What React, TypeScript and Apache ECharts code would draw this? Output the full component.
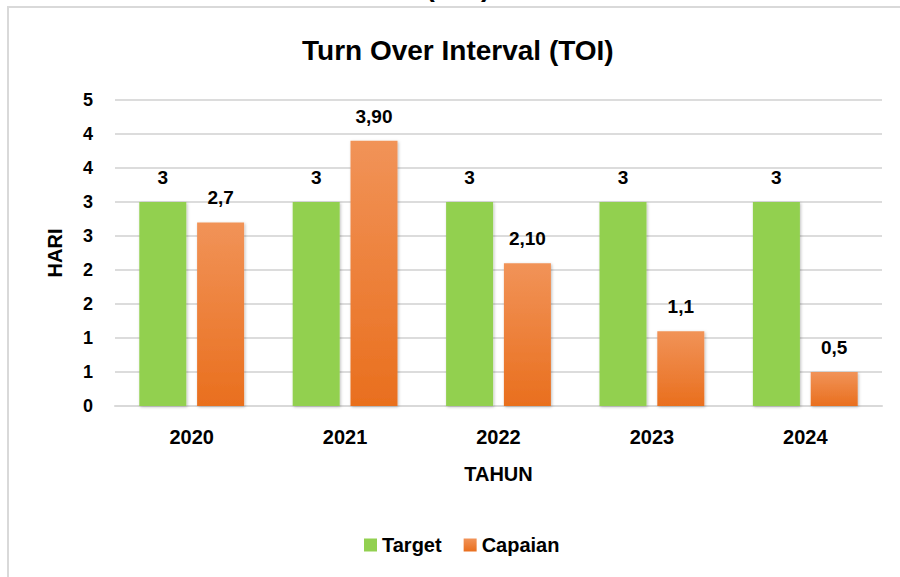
import React, { useEffect, useRef } from "react";
import * as echarts from "echarts";

const categories = ["2020", "2021", "2022", "2023", "2024"];
const targetValues = [3, 3, 3, 3, 3];
const targetLabels = ["3", "3", "3", "3", "3"];
const capaianValues = [2.7, 3.9, 2.1, 1.1, 0.5];
const capaianLabels = ["2,7", "3,90", "2,10", "1,1", "0,5"];
const seriesNames = ["Target", "Capaian"];
const titleText = "Turn Over Interval (TOI)";

const FONT = "'Liberation Sans', Arial, sans-serif";

export default function App() {
  const ref = useRef<HTMLDivElement>(null);
  useEffect(() => {
    if (!ref.current) return;
    const chart = echarts.init(ref.current, null, { renderer: "svg" });
    const orange = new echarts.graphic.LinearGradient(0, 0, 0, 1, [
      { offset: 0, color: "#F19358" },
      { offset: 1, color: "#E96F1E" },
    ]);
    chart.setOption({
      animation: false,
      backgroundColor: "#ffffff",
      textStyle: { fontFamily: FONT },
      title: {
        text: titleText,
        left: 302,
        top: 36,
        padding: 0,
        textStyle: { fontFamily: FONT, fontSize: 28, fontWeight: "bold", color: "#000" },
      },
      graphic: [
        {
          type: "rect",
          shape: { x: 8, y: 7, width: 1000, height: 1000 },
          style: { fill: "none", stroke: "#d9d9d9", lineWidth: 2 },
          silent: true,
        },
        {
          type: "text",
          x: 458,
          y: 0,
          style: {
            text: "(TOI)",
            font: `bold 28px ${FONT}`,
            fill: "#000",
            align: "center",
            verticalAlign: "bottom",
          },
          silent: true,
        },
      ],
      legend: {
        data: seriesNames,
        left: 359,
        top: 530,
        itemWidth: 13,
        itemHeight: 13,
        itemGap: 22,
        icon: "rect",
        textStyle: { fontFamily: FONT, fontSize: 20, fontWeight: "bold", color: "#000" },
      },
      grid: { left: 115, right: 18, top: 100, bottom: 171, containLabel: false },
      xAxis: {
        type: "category",
        data: categories,
        name: "TAHUN",
        nameLocation: "middle",
        nameGap: 58,
        nameTextStyle: { fontFamily: FONT, fontSize: 20, fontWeight: "bold", color: "#000" },
        axisTick: { show: false },
        axisLine: { lineStyle: { color: "#d9d9d9", width: 2 } },
        axisLabel: { margin: 21, fontFamily: FONT, fontSize: 20, fontWeight: "bold", color: "#000" },
      },
      yAxis: {
        type: "value",
        min: 0,
        max: 4.5,
        interval: 0.5,
        name: "HARI",
        nameLocation: "middle",
        nameGap: 50,
        nameRotate: 90,
        nameTextStyle: { fontFamily: FONT, fontSize: 20, fontWeight: "bold", color: "#000" },
        axisLine: { show: false },
        axisTick: { show: false },
        splitLine: { lineStyle: { color: "#dcdcdc", width: 2 } },
        axisLabel: {
          margin: 22,
          fontFamily: FONT,
          fontSize: 18,
          fontWeight: "bold",
          color: "#000",
          formatter: (v: number) => String(Math.round(v)),
        },
      },
      series: [
        {
          name: seriesNames[0],
          type: "bar",
          data: targetValues,
          barWidth: 47,
          barGap: "23%",
          itemStyle: {
            color: "#92D050",
            shadowBlur: 3,
            shadowColor: "rgba(0,0,0,0.25)",
            shadowOffsetX: 1,
            shadowOffsetY: 1,
          },
          label: {
            show: true,
            position: "top",
            distance: 15,
            fontFamily: FONT,
            fontSize: 19,
            fontWeight: "bold",
            color: "#000",
            formatter: (p: any) => targetLabels[p.dataIndex],
          },
        },
        {
          name: seriesNames[1],
          type: "bar",
          data: capaianValues,
          barWidth: 47,
          itemStyle: {
            color: orange,
            shadowBlur: 3,
            shadowColor: "rgba(0,0,0,0.25)",
            shadowOffsetX: 1,
            shadowOffsetY: 1,
          },
          label: {
            show: true,
            position: "top",
            distance: 15,
            fontFamily: FONT,
            fontSize: 19,
            fontWeight: "bold",
            color: "#000",
            formatter: (p: any) => capaianLabels[p.dataIndex],
          },
        },
      ],
    });
    return () => chart.dispose();
  }, []);
  return (
    <div
      ref={ref}
      style={{ position: "absolute", left: 0, top: 0, width: 900, height: 577 }}
    />
  );
}
